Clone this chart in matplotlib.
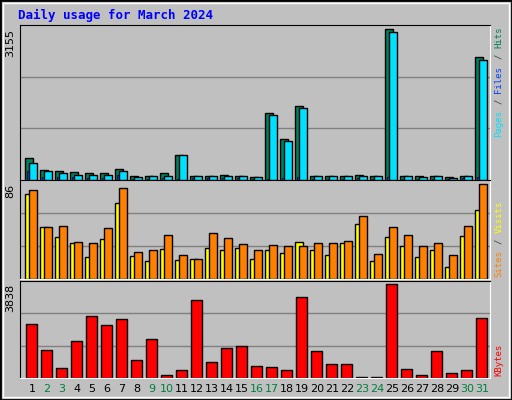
import matplotlib
matplotlib.use('Agg')
import matplotlib.pyplot as plt
import numpy as np

# Daily values
days = list(range(1, 32))
weekend = [2, 3, 9, 10, 16, 17, 23, 24, 30, 31]
hits = [464, 200, 178, 157, 136, 136, 228, 93, 93, 136, 521, 93, 93, 114, 93, 57,
        1400, 864, 1549, 79, 93, 93, 114, 79, 3155, 93, 79, 79, 57, 93, 2577]
pages = [350, 178, 136, 114, 114, 114, 178, 57, 79, 93, 521, 93, 79, 93, 93, 57,
         1357, 821, 1507, 79, 79, 93, 93, 79, 3092, 79, 57, 79, 36, 79, 2513]
files = [178, 70, 60, 60, 40, 40, 110, 30, 30, 40, 20, 50, 40, 50, 40, 20,
         20, 40, 60, 30, 30, 30, 40, 30, 70, 30, 30, 30, 20, 40, 70]
visits = [77, 47, 38, 33, 20, 36, 69, 21, 16, 27, 17, 18, 28, 26, 28, 18,
          26, 24, 34, 26, 22, 33, 50, 16, 38, 30, 20, 26, 11, 39, 63]
sites = [81, 47, 48, 34, 33, 46, 83, 25, 26, 40, 22, 18, 42, 37, 32, 26,
         31, 30, 30, 33, 33, 35, 57, 23, 47, 40, 30, 33, 22, 48, 86]
kbytes = [2199, 1149, 392, 1527, 2535, 2157, 2409, 728, 1611, 140, 308, 3208, 644,
          1233, 1317, 476, 434, 308, 3334, 1107, 560, 560, 30, 30, 3838, 350, 140,
          1107, 224, 308, 2451]

W, H = 512, 400
BG = '#C0C0C0'
fig = plt.figure(figsize=(W / 100, H / 100), dpi=100, facecolor=BG)
mono = 'DejaVu Sans Mono'

# outer frame
fig.add_artist(plt.Rectangle((0, 0), 1, 1, transform=fig.transFigure, fill=False,
                             edgecolor='black', lw=2))
fig.add_artist(plt.Rectangle((3 / W, 3 / H), 1 - 6 / W, 1 - 6 / H, transform=fig.transFigure,
                             fill=False, edgecolor='white', lw=1))


def panel(y0, y1):
    ax = fig.add_axes([20 / W, 1 - y1 / H, 470 / W, (y1 - y0) / H])
    ax.set_facecolor(BG)
    for s in ['top', 'left']:
        ax.spines[s].set_color('black')
    for s in ['bottom', 'right']:
        ax.spines[s].set_color('white')
    ax.set_xticks([])
    ax.set_yticks([])
    ax.set_xlim(0.647, 0.647 + 470 / 15)
    return ax


x = np.array(days, dtype=float)
ec = dict(edgecolor='black', linewidth=1, align='edge')

ax1 = panel(25, 180)
top1 = 3155 * 151.7 / 147.7
ax1.set_ylim(0, top1)
for g in (top1 / 3, 2 * top1 / 3):
    ax1.axhline(g, color='#808080', lw=1, zorder=0)
ax1.bar(x, hits, width=0.49, color='#00805C', **ec)
ax1.bar(x + 0.1, files, width=0.13, color='#0040FF', edgecolor='black', linewidth=0.5, align='edge')
ax1.bar(x + 0.27, pages, width=0.49, color='#00E0FF', **ec)

ax2 = panel(180, 279)
top2 = 86 * 96 / 91.7
ax2.set_ylim(0, top2)
for g in (top2 / 3, 2 * top2 / 3):
    ax2.axhline(g, color='#808080', lw=1, zorder=0)
ax2.bar(x, visits, width=0.49, color='#FFFF00', **ec)
ax2.bar(x + 0.27, sites, width=0.49, color='#FF8000', **ec)

ax3 = panel(281, 378)
top3 = 3838 * 94.7 / 91.3
ax3.set_ylim(0, top3)
for g in (top3 / 3, 2 * top3 / 3):
    ax3.axhline(g, color='#808080', lw=1, zorder=0)
ax3.bar(x + 0.07, kbytes, width=0.69, color='#FF0000', **ec)

# day labels
for d in days:
    px = 20 + (d + 0.45 - 0.647) * 15
    fig.text(px / W, 1 - 389 / H, str(d), ha='center', va='center', fontsize=8,
             family='DejaVu Sans', color='#008040' if d in weekend else 'black')

# max labels on left
for lab, yy in [('3155', 29), ('86', 184), ('3838', 284)]:
    fig.text(10 / W, 1 - yy / H, lab, rotation=90, ha='center', va='top', fontsize=8,
             family='DejaVu Sans')

fig.text(18 / W, 1 - 15 / H, 'Daily usage for March 2024', color='#0000FF', fontsize=9,
         family=mono, fontweight='bold', va='center')

FS = 6.5
CH = FS * 100 / 72 * 0.602  # pixels per character, rotated monospace


def side_label(parts, ybottom):
    # stack rotated text pieces from the bottom upward, with '/' separators
    yy = ybottom
    for i, (txt, col) in enumerate(parts):
        if i > 0:
            yy -= CH + 0.5
            fig.text(499 / W, 1 - yy / H, '/', rotation=90, color='#404040', fontsize=FS,
                     family=mono, ha='center', va='bottom')
            yy -= 2 * CH + 0.5
        fig.text(499 / W, 1 - yy / H, txt, rotation=90, color=col, fontsize=FS,
                 family=mono, ha='center', va='bottom')
        yy -= len(txt) * CH


side_label([('Pages', '#00E0FF'), ('Files', '#0040FF'), ('Hits', '#00805C')], 137)
side_label([('Sites', '#FF8000'), ('Visits', '#FFFF00')], 277)
side_label([('KBytes', '#FF0000')], 376)

fig.savefig('out.png', dpi=100, facecolor=BG)
